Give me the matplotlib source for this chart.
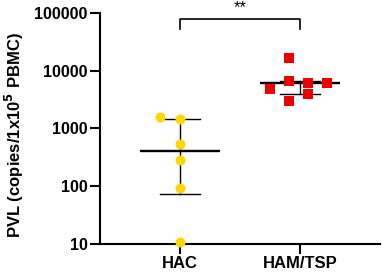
import matplotlib
matplotlib.use("Agg")
import matplotlib.pyplot as plt
import numpy as np

plt.rcParams['font.family'] = ['Liberation Sans', 'DejaVu Sans']

groups = ["HAC", "HAM/TSP"]
hac_values = [1550, 1450, 530, 280, 92, 11]
ham_values = [16300, 6700, 4900, 2960, 6200, 4000, 6200]
hac_err = [73, 1480]     # lower, upper
ham_err = [4000, 6700]
ytick_vals = [10, 100, 1000, 10000, 100000]
ytick_labels = ["10", "100", "1000", "10000", "100000"]
sig_label = "**"

# horizontal jitter (layout only)
hac_jit = [-0.167, 0, 0, 0, 0, 0]
ham_jit = [-0.09, -0.09, -0.25, -0.09, 0.067, 0.067, 0.225]

fig = plt.figure(figsize=(3.83, 2.76), dpi=100)
ax = fig.add_axes([0.261, 0.116, 0.731, 0.837])
ax.set_yscale('log')
ax.set_ylim(10, 100000)
ax.set_xlim(1/3, 8/3)

def draw_group(x, vals, jit, err, color, marker, size):
    med = np.median(vals)
    ax.plot([x - 0.333, x + 0.333], [med, med], color='black', lw=1.7, zorder=2, solid_capstyle='butt')
    ax.plot([x, x], err, color='black', lw=1.0, zorder=2)
    for e in err:
        ax.plot([x - 0.167, x + 0.167], [e, e], color='black', lw=1.0, zorder=2)
    ax.scatter(np.array(jit) + x, vals, s=size, c=color, marker=marker,
               zorder=3, clip_on=False, linewidths=0)

draw_group(1, hac_values, hac_jit, hac_err, '#FFD700', 'o', 52)
draw_group(2, ham_values, ham_jit, ham_err, '#EE0000', 's', 48)

# significance bracket
ax.plot([1, 1, 2, 2], [53000, 80000, 80000, 53000], color='black', lw=1.2, clip_on=False, zorder=2)
ax.text(1.5, 90000, sig_label, ha='center', va='bottom', fontsize=12, clip_on=False)

ax.set_yticks(ytick_vals)
ax.set_yticklabels(ytick_labels)
ax.yaxis.set_minor_locator(matplotlib.ticker.NullLocator())
ax.set_xticks([1, 2])
ax.set_xticklabels(groups)
for lab in ax.get_xticklabels():
    lab.set_fontweight('bold'); lab.set_fontsize(12)
for lab in ax.get_yticklabels():
    lab.set_fontweight('bold'); lab.set_fontsize(11.5)
ax.tick_params(axis='both', direction='out', length=7, width=1.5, pad=2)
ax.set_ylabel("PVL (copies/1x10$^{\\mathbf{5}}$ PBMC)", fontsize=12, fontweight='bold')
ax.yaxis.set_label_coords(-0.345, 0.47)
ax.yaxis.label.set_verticalalignment('top')

ax.spines['top'].set_visible(False)
ax.spines['right'].set_visible(False)
ax.spines['left'].set_linewidth(1.5)
ax.spines['bottom'].set_linewidth(1.5)

fig.savefig("out.png", dpi=100)
